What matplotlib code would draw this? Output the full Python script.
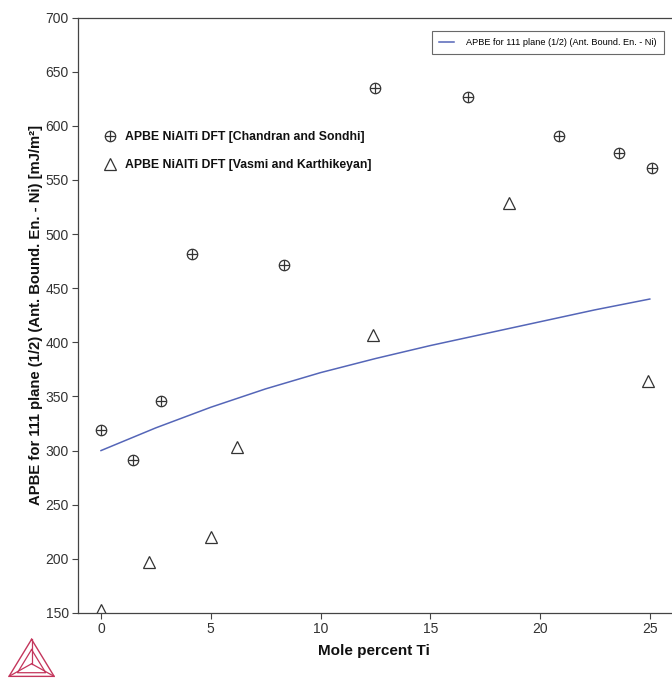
import numpy as np
import matplotlib.pyplot as plt
from matplotlib.lines import Line2D
from matplotlib.legend_handler import HandlerTuple

plt.rcParams['font.family'] = ['Liberation Sans', 'DejaVu Sans']

# Datos
calc_x = [0, 2.5, 5, 7.5, 10, 12.5, 15, 17.5, 20, 22.5, 25]
calc_y = [300, 321, 340, 357, 372, 385, 397, 408, 419, 430, 440]

chandran_x = [0, 1.45, 2.75, 4.15, 8.35, 12.5, 16.7, 20.85, 23.6, 25.1]
chandran_y = [319, 291, 346, 482, 471, 635, 627, 591, 575, 561]

vasmi_x = [0, 2.2, 5.0, 6.2, 12.4, 18.6, 24.9]
vasmi_y = [153, 197, 220, 303, 407, 529, 364]

line_label = 'APBE for 111 plane (1/2) (Ant. Bound. En. - Ni)'
chandran_label = 'APBE NiAlTi DFT [Chandran and Sondhi]'
vasmi_label = 'APBE NiAlTi DFT [Vasmi and Karthikeyan]'

gris = '#444444'

fig = plt.figure(figsize=(6.72, 6.78), dpi=100)
ax = fig.add_axes([0.116, 0.096, 0.882, 0.878])

line, = ax.plot(calc_x, calc_y, color='#5566b8', lw=1.1, label=line_label)

ax.plot(chandran_x, chandran_y, ls='none', marker='o', ms=7.5, mfc='none',
        mec='#333333', mew=0.9)
ax.plot(chandran_x, chandran_y, ls='none', marker='+', ms=7.5,
        mec='#333333', mew=0.9)
ax.plot(vasmi_x, vasmi_y, ls='none', marker='^', ms=8, mfc='none',
        mec='#333333', mew=0.9)

ax.set_xlim(-1.05, 25.95)
ax.set_ylim(150, 700)
ax.set_xticks([0, 5, 10, 15, 20, 25])
ax.set_yticks(np.arange(150, 701, 50))
ax.tick_params(direction='out', length=4, width=0.8, color=gris, pad=2.5,
               labelcolor='#333333', labelsize=10)
for s in ['left', 'bottom', 'top']:
    ax.spines[s].set_color(gris)
    ax.spines[s].set_linewidth(0.9)
ax.spines['right'].set_visible(False)

ax.set_xlabel('Mole percent Ti', fontsize=11, fontweight='bold',
              color='#111111', labelpad=6)
ax.set_ylabel('APBE for 111 plane (1/2) (Ant. Bound. En. - Ni) [mJ/m²]',
              fontsize=10.7, fontweight='bold', color='#111111', labelpad=2)

leg1 = ax.legend(handles=[line], loc='upper right', bbox_to_anchor=(0.997, 0.986),
                 fontsize=6.6, frameon=True, fancybox=False, edgecolor=gris,
                 handlelength=1.6, borderpad=0.8, handletextpad=1.4)
leg1.get_frame().set_linewidth(0.8)
ax.add_artist(leg1)

h_circ = (Line2D([], [], ls='none', marker='o', ms=7.5, mfc='none', mec='#333333', mew=0.9),
          Line2D([], [], ls='none', marker='+', ms=7.5, mec='#333333', mew=0.9))
h_tri = Line2D([], [], ls='none', marker='^', ms=8, mfc='none', mec='#333333', mew=0.9)
leg2 = ax.legend(handles=[h_circ, h_tri], labels=[chandran_label, vasmi_label],
                 handler_map={tuple: HandlerTuple(ndivide=1, pad=0)},
                 loc='upper left', bbox_to_anchor=(0.025, 0.828), frameon=False,
                 prop={'size': 8.8, 'weight': 'bold'}, handlelength=1.0,
                 handletextpad=0.7, labelspacing=1.3, labelcolor='#111111')

# logo
lax = fig.add_axes([0.012, 0.0, 0.07, 0.06])
lax.set_xlim(0, 1)
lax.set_ylim(0, 1)
lax.axis('off')
rojo = '#c4365c'
A, B, C = (0.5, 0.95), (0.02, 0.04), (0.98, 0.04)
O = (0.5, 0.35)
lax.plot([A[0], B[0], C[0], A[0]], [A[1], B[1], C[1], A[1]], color=rojo, lw=1.0)
for P in (A, B, C):
    lax.plot([P[0], O[0]], [P[1], O[1]], color=rojo, lw=0.9)
a2, b2, c2 = (0.5, 0.7), (0.2, 0.13), (0.8, 0.13)
lax.plot([a2[0], b2[0], c2[0], a2[0]], [a2[1], b2[1], c2[1], a2[1]], color=rojo, lw=0.9)

fig.savefig('out.png', dpi=100)
